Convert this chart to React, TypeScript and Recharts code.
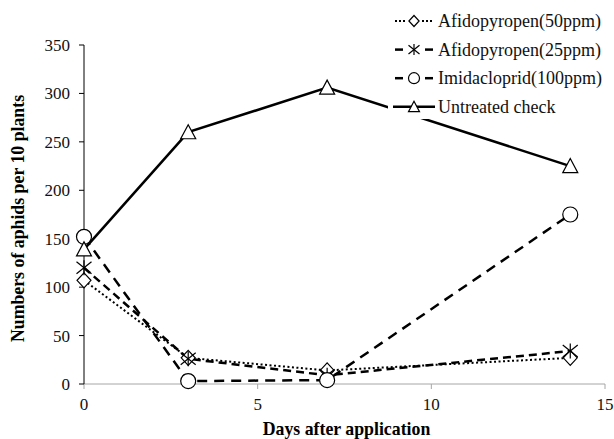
import React from 'react';
import { LineChart, Line, XAxis, YAxis, Legend, Label } from 'recharts';

const days = [0, 3, 7, 14];
const afido50 = [107, 27, 14, 27];
const afido25 = [120, 26, 9, 34];
const imida = [152, 3, 4, 175];
const untreated = [139, 260, 306, 225];

const xTicks = [0, 5, 10, 15];
const yTicks = [0, 50, 100, 150, 200, 250, 300, 350];

const data = days.map((d, i) => ({
  day: d,
  afido50: afido50[i],
  afido25: afido25[i],
  imida: imida[i],
  untreated: untreated[i],
}));

const FONT = '"Liberation Serif", "Times New Roman", serif';

type Marker = 'diamond' | 'star' | 'circle' | 'triangle';

// draws one marker shape at (cx, cy), s = half size
const shape = (m: Marker, cx: number, cy: number, s: number, key?: string) => {
  const sw = 1.2;
  if (m === 'diamond') {
    return (
      <polygon key={key} points={`${cx},${cy - s} ${cx + s * 0.93},${cy} ${cx},${cy + s} ${cx - s * 0.93},${cy}`}
        fill="#fff" stroke="#000" strokeWidth={sw} />
    );
  }
  if (m === 'star') {
    return (
      <g key={key} stroke="#000" strokeWidth={sw}>
        <line x1={cx} y1={cy - s} x2={cx} y2={cy + s} />
        <line x1={cx - s} y1={cy - s * 0.8} x2={cx + s} y2={cy + s * 0.8} />
        <line x1={cx - s} y1={cy + s * 0.8} x2={cx + s} y2={cy - s * 0.8} />
      </g>
    );
  }
  if (m === 'circle') {
    return <circle key={key} cx={cx} cy={cy} r={s} fill="#fff" stroke="#000" strokeWidth={sw} />;
  }
  return (
    <polygon key={key} points={`${cx},${cy - s} ${cx + s},${cy + s * 0.88} ${cx - s},${cy + s * 0.88}`}
      fill="#fff" stroke="#000" strokeWidth={sw} />
  );
};

const series = [
  { key: 'afido50', name: 'Afidopyropen(50ppm)', dash: '2 2.5', width: 2, marker: 'diamond' as Marker },
  { key: 'afido25', name: 'Afidopyropen(25ppm)', dash: '8 5', width: 2.5, marker: 'star' as Marker },
  { key: 'imida', name: 'Imidacloprid(100ppm)', dash: '10 7', width: 2.5, marker: 'circle' as Marker },
  { key: 'untreated', name: 'Untreated check', dash: undefined, width: 2.5, marker: 'triangle' as Marker },
];

const makeDot = (m: Marker) => (props: any) => {
  const { cx, cy, index } = props;
  if (cx == null || cy == null) return <g key={`e-${index}`} />;
  return shape(m, cx, cy, 7.5, `${m}-${index}`);
};

const LegendBox = () => (
  <svg width={226} height={119} style={{ display: 'block' }}>
    {series.map((s, i) => {
      const y = 21 + i * 28.6;
      return (
        <g key={s.key}>
          {s.marker === 'diamond' ? (
            <>
              <line x1={7} y1={y} x2={18} y2={y} stroke="#000" strokeWidth={1.8} strokeDasharray="2 2" />
              <line x1={34} y1={y} x2={46} y2={y} stroke="#000" strokeWidth={1.8} strokeDasharray="2 2" />
            </>
          ) : s.dash ? (
            <>
              <line x1={7} y1={y} x2={15} y2={y} stroke="#000" strokeWidth={2.5} />
              <line x1={37} y1={y} x2={45} y2={y} stroke="#000" strokeWidth={2.5} />
            </>
          ) : (
            <line x1={5} y1={y} x2={47} y2={y} stroke="#000" strokeWidth={2.5} />
          )}
          {shape(s.marker, 26, y, 5.5)}
          <text x={50} y={y} dominantBaseline="central" fontFamily={FONT} fontSize={18} fill="#111">
            {s.name}
          </text>
        </g>
      );
    })}
  </svg>
);

const YTitle = (props: any) => {
  const vb = props.viewBox || { x: 0, y: 45, width: 84, height: 339 };
  const cx = vb.x + 18;
  const cy = vb.y + vb.height / 2 + 4;
  return (
    <text x={cx} y={cy} transform={`rotate(-90, ${cx}, ${cy})`} textAnchor="middle" dominantBaseline="central"
      fontFamily={FONT} fontSize={17.8} fontWeight="bold" fill="#000">
      Numbers of aphids per 10 plants
    </text>
  );
};

const XTitle = (props: any) => {
  const vb = props.viewBox || { x: 84, y: 384, width: 521, height: 55 };
  return (
    <text x={vb.x + vb.width / 2 + 2} y={vb.y + 51} textAnchor="middle"
      fontFamily={FONT} fontSize={17.8} fontWeight="bold" fill="#000">
      Days after application
    </text>
  );
};

export default function App() {
  return (
    <div style={{ position: 'absolute', left: 0, top: 0, width: 614, height: 439, background: '#fff' }}>
      <LineChart width={614} height={439} data={data} margin={{ top: 45, right: 9, bottom: 0, left: 0 }}>
        <XAxis
          dataKey="day"
          type="number"
          domain={[0, 15]}
          ticks={xTicks}
          stroke="#a6a6a6"
          tickSize={5}
          tickMargin={9}
          height={55}
          tick={{ fill: '#111', fontFamily: FONT, fontSize: 17 }}
        >
          <Label content={XTitle} />
        </XAxis>
        <YAxis
          type="number"
          domain={[0, 350]}
          ticks={yTicks}
          stroke="#000"
          tickSize={5}
          tickMargin={9}
          width={84}
          tick={{ fill: '#111', fontFamily: FONT, fontSize: 17 }}
        >
          <Label content={YTitle} />
        </YAxis>
        <Legend
          layout="vertical"
          align="center"
          verticalAlign="middle"
          content={LegendBox}
          wrapperStyle={{ top: 0, left: 388, width: 226, height: 119, backgroundColor: '#fff' }}
        />
        {series.map((s) => (
          <Line
            key={s.key}
            dataKey={s.key}
            name={s.name}
            type="linear"
            stroke="#000"
            strokeWidth={s.width}
            strokeDasharray={s.dash}
            dot={makeDot(s.marker)}
            activeDot={false}
            isAnimationActive={false}
          />
        ))}
      </LineChart>
    </div>
  );
}
